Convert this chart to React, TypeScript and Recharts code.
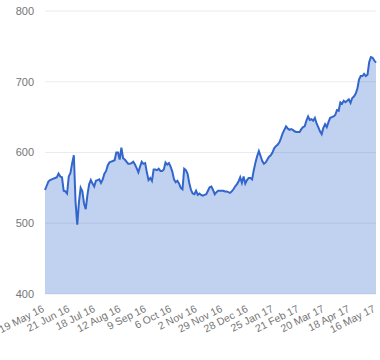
import { AreaChart, Area, XAxis, YAxis, CartesianGrid } from "recharts";

// closing prices, evenly spaced from 19 May 16 to 16 May 17
const closes = [
  547, 553, 559, 561, 562, 563, 564, 565, 570, 566,
  565, 546, 545, 542, 566, 571, 585, 596, 530, 498,
  530, 550, 545, 528, 520, 540, 555, 561, 556, 552,
  560, 561, 562, 557, 562, 570, 574, 582, 586, 587,
  588, 589, 600, 600, 590, 607, 592, 590, 587, 584,
  584, 585, 587, 583, 578, 572, 580, 587, 584, 585,
  572, 561, 564, 560, 576, 576, 575, 577, 574, 574,
  576, 586, 583, 585, 580, 573, 562, 558, 560, 556,
  550, 548, 577, 575, 570, 557, 547, 542, 541, 546,
  540, 542, 540, 539, 540, 541, 546, 551, 552, 547,
  541, 544, 546, 546, 546, 546, 545, 545, 544, 543,
  545, 548, 552, 555, 559, 565, 557, 566, 556, 561,
  564, 564, 562, 575, 586, 595, 602, 595, 588, 584,
  586, 590, 594, 596, 600, 606, 609, 611, 614, 620,
  627, 632, 637, 634, 632, 633, 632, 630, 629, 629,
  629, 633, 636, 637, 645, 651, 646, 647, 645, 649,
  641, 636, 630, 626, 635, 640, 636, 643, 649, 650,
  651, 653, 660, 659, 671, 669, 673, 671, 673, 675,
  670, 677, 679, 683, 690, 703, 708, 708, 711, 708,
  710, 728, 735, 734, 730, 727,
];

const tickLabels = [
  "19 May 16", "21 Jun 16", "18 Jul 16", "12 Aug 16", "9 Sep 16",
  "6 Oct 16", "2 Nov 16", "29 Nov 16", "28 Dec 16", "25 Jan 17",
  "21 Feb 17", "20 Mar 17", "18 Apr 17", "16 May 17",
];

const yTicks = [400, 500, 600, 700, 800];

const step = (closes.length - 1) / (tickLabels.length - 1);
const xTicks = tickLabels.map((_, j) => j * step);
const data = closes.map((v, i) => ({ i, v }));

const font = "Arial, 'Liberation Sans', sans-serif";

function DateTick({ x, y, payload }: any) {
  const label = tickLabels[Math.round(payload.value / step)];
  return (
    <g transform={`translate(${x},${y + 9})`}>
      <text
        x={0}
        y={0}
        textAnchor="end"
        transform="rotate(-27)"
        fill="#757575"
        fontSize={10.5}
        fontFamily={font}
      >
        {label}
      </text>
    </g>
  );
}

export default function App() {
  return (
    <div style={{ position: "absolute", left: 0, top: 0 }}>
      <AreaChart
        width={380}
        height={360}
        data={data}
        margin={{ top: 11, right: 4, left: 0, bottom: 0 }}
      >
        <CartesianGrid vertical={false} stroke="#ebebeb" />
        <XAxis
          type="number"
          dataKey="i"
          domain={[0, closes.length - 1]}
          ticks={xTicks}
          interval={0}
          height={66}
          axisLine={false}
          tickLine={false}
          tick={<DateTick />}
        />
        <YAxis
          domain={[400, 800]}
          ticks={yTicks}
          width={45}
          axisLine={false}
          tickLine={false}
          tickMargin={5}
          tick={{ fill: "#757575", fontSize: 11, fontFamily: font }}
        />
        <Area
          type="linear"
          dataKey="v"
          stroke="#3366cc"
          strokeWidth={2}
          fill="#3366cc"
          fillOpacity={0.3}
          baseValue={400}
          isAnimationActive={false}
          dot={false}
          activeDot={false}
        />
      </AreaChart>
    </div>
  );
}
